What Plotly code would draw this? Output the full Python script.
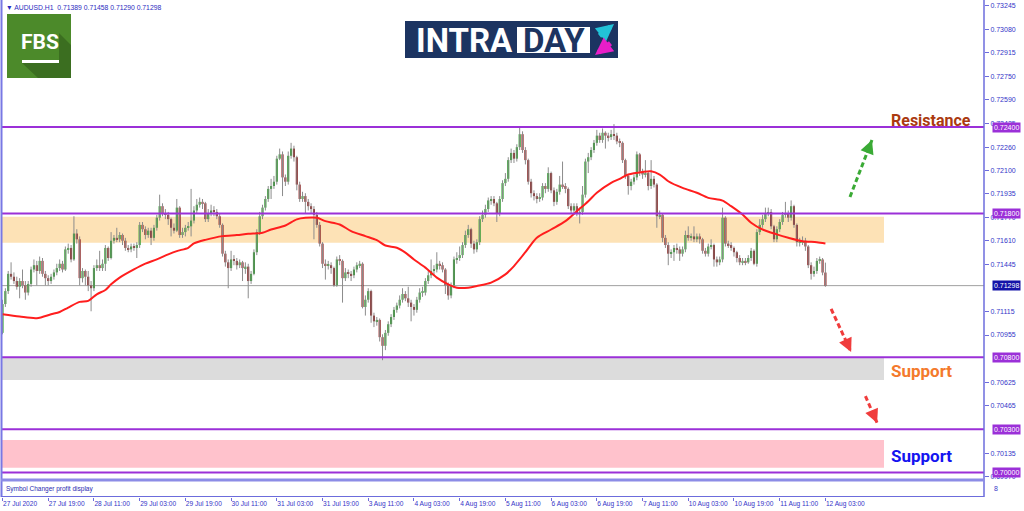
import plotly.graph_objects as go

W, H = 1024, 511

# ---------------- DATA (prices in 1e-5 units) ----------------
first_open = 70970
closes = [
    71170, 71260, 71380, 71360, 71330, 71290, 71330, 71300, 71250, 71310,
    71410, 71440, 71400, 71470, 71380, 71350, 71330, 71360, 71390, 71420,
    71450, 71410, 71550, 71560, 71480, 71660, 71620, 71350, 71400, 71360,
    71300, 71280, 71420, 71440, 71420, 71450, 71560, 71490, 71610, 71630,
    71620, 71650, 71610, 71560, 71550, 71570, 71560, 71580, 71720, 71690,
    71650, 71680, 71630, 71700, 71770, 71850, 71800, 71790, 71760, 71700,
    71680, 71840, 71650, 71670, 71700, 71710, 71750, 71820, 71860, 71880,
    71870, 71760, 71800, 71820, 71810, 71780, 71720, 71520, 71460, 71420,
    71480, 71470, 71440, 71460, 71420, 71430, 71330, 71380, 71530, 71670,
    71780, 71840, 71900, 71970, 71990, 72020, 72180, 72210, 72050, 72020,
    72200, 72250, 72190, 72000, 71900, 71920, 71880, 71850, 71830, 71790,
    71720, 71590, 71450, 71440, 71440, 71420, 71300, 71480, 71470, 71350,
    71390, 71380, 71370, 71410, 71440, 71450, 71150, 71200, 71260, 71090,
    71050, 71060, 70940, 70880, 70970, 71030, 71080, 71130, 71160, 71200,
    71240, 71210, 71180, 71150, 71130, 71200, 71250, 71250, 71330, 71370,
    71400, 71410, 71450, 71440, 71410, 71300, 71230, 71300, 71480, 71490,
    71510, 71580, 71650, 71690, 71590, 71550, 71600, 71760, 71790, 71830,
    71890, 71900, 71870, 71800, 71900, 72010, 72040, 72170, 72220, 72180,
    72260, 72350, 72240, 72170, 72020, 71940, 71920, 71900, 71910, 71990,
    71970, 72080, 71960, 71880, 71950, 72000, 71990, 71970, 71850, 71820,
    71850, 71800, 71810, 71930, 72160, 72190, 72240, 72290, 72340, 72310,
    72360, 72340, 72330, 72350, 72340, 72300, 72290, 72170, 72060, 71990,
    72020, 72050, 72210, 72090, 72070, 72080, 71990, 72040, 72000, 71780,
    71790, 71630, 71580, 71520, 71530, 71560, 71550, 71520, 71550, 71650,
    71630, 71640, 71620, 71640, 71620, 71540, 71520, 71570, 71580, 71480,
    71460, 71480, 71770, 71590, 71580, 71560, 71530, 71490, 71460, 71470,
    71460, 71490, 71540, 71450, 71670, 71720, 71760, 71800, 71810, 71710,
    71620, 71690, 71740, 71790, 71800, 71770, 71850, 71720, 71600, 71600,
    71610, 71570, 71440, 71380, 71400, 71470, 71480, 71389, 71298,
]
highs = [
    71200, 71280, 71400, 71460, 71390, 71360, 71350, 71410, 71330, 71330,
    71430, 71480, 71470, 71500, 71490, 71400, 71370, 71380, 71410, 71450,
    71480, 71470, 71570, 71590, 71580, 71780, 71690, 71640, 71420, 71410,
    71400, 71330, 71440, 71480, 71540, 71480, 71580, 71570, 71670, 71650,
    71700, 71670, 71660, 71630, 71580, 71590, 71590, 71600, 71740, 71740,
    71710, 71700, 71700, 71720, 71790, 71930, 71870, 71830, 71810, 71770,
    71730, 71900, 71850, 71700, 71720, 71740, 71970, 71850, 71900, 71910,
    71900, 71880, 71830, 71860, 71850, 71830, 71800, 71730, 71540, 71480,
    71540, 71510, 71490, 71480, 71470, 71460, 71450, 71400, 71550, 71690,
    71810, 71860, 71920, 71990, 72040, 72060, 72200, 72250, 72230, 72070,
    72230, 72290, 72270, 72200, 72020, 71950, 71940, 71900, 71870, 71850,
    71810, 71740, 71600, 71480, 71470, 71460, 71430, 71500, 71510, 71480,
    71420, 71410, 71400, 71430, 71460, 71470, 71460, 71230, 71280, 71270,
    71110, 71080, 71070, 70960, 70990, 71050, 71100, 71150, 71180, 71230,
    71280, 71260, 71290, 71200, 71170, 71220, 71280, 71290, 71350, 71400,
    71480, 71440, 71530, 71470, 71460, 71420, 71320, 71320, 71500, 71530,
    71570, 71600, 71680, 71720, 71700, 71610, 71620, 71780, 71820, 71860,
    71910, 71920, 71920, 71880, 71920, 72030, 72080, 72190, 72250, 72240,
    72280, 72400, 72370, 72260, 72180, 72040, 71960, 71940, 71940, 72010,
    72010, 72120, 72090, 71980, 71970, 72060, 72160, 72010, 71980, 71870,
    71870, 71870, 71840, 71990, 72180, 72220, 72260, 72310, 72380, 72360,
    72390, 72370, 72360, 72380, 72420, 72360, 72320, 72300, 72180, 72070,
    72040, 72070, 72230, 72220, 72110, 72170, 72090, 72170, 72060, 72010,
    71820, 71800, 71650, 71600, 71550, 71580, 71590, 71570, 71570, 71680,
    71710, 71660, 71710, 71660, 71660, 71630, 71560, 71590, 71620, 71590,
    71500, 71500, 71840, 71780, 71610, 71600, 71570, 71540, 71510, 71490,
    71490, 71510, 71560, 71550, 71690, 71760, 71790, 71840, 71840, 71830,
    71720, 71710, 71760, 71810, 71880, 71820, 71890, 71860, 71730, 71630,
    71640, 71630, 71580, 71460, 71430, 71490, 71500, 71490, 71458,
]
lows = [
    70960, 71150, 71240, 71340, 71310, 71270, 71210, 71280, 71200, 71230,
    71290, 71390, 71300, 71380, 71360, 71300, 71300, 71310, 71340, 71370,
    71400, 71390, 71400, 71520, 71460, 71470, 71590, 71300, 71320, 71300,
    71260, 71120, 71260, 71400, 71400, 71400, 71400, 71470, 71480, 71590,
    71600, 71600, 71580, 71540, 71530, 71530, 71540, 71490, 71560, 71670,
    71620, 71630, 71580, 71610, 71680, 71750, 71780, 71760, 71720, 71640,
    71660, 71670, 71630, 71630, 71640, 71680, 71640, 71730, 71800, 71840,
    71830, 71740, 71740, 71780, 71780, 71760, 71700, 71500, 71430, 71280,
    71400, 71440, 71410, 71420, 71330, 71380, 71210, 71310, 71370, 71510,
    71650, 71760, 71820, 71880, 71900, 71970, 72000, 72170, 71920, 71990,
    72000, 72180, 72160, 71960, 71880, 71880, 71800, 71820, 71800, 71620,
    71700, 71570, 71420, 71340, 71410, 71380, 71290, 71290, 71440, 71180,
    71330, 71350, 71330, 71350, 71390, 71420, 71140, 71090, 71180, 71040,
    71010, 71020, 70910, 70780, 70850, 70950, 71010, 71060, 71110, 71140,
    71180, 71190, 71150, 71050, 71090, 71110, 71180, 71220, 71230, 71310,
    71350, 71370, 71390, 71410, 71390, 71240, 71200, 71210, 71280, 71450,
    71470, 71490, 71560, 71630, 71560, 71520, 71530, 71580, 71740, 71770,
    71810, 71860, 71850, 71740, 71780, 71880, 71990, 72020, 72150, 72150,
    72160, 72240, 72220, 72140, 72000, 71910, 71890, 71870, 71880, 71890,
    71940, 71950, 71940, 71850, 71860, 71930, 71970, 71940, 71830, 71800,
    71800, 71780, 71730, 71790, 71910, 72080, 72170, 72220, 72270, 72290,
    72290, 72250, 72300, 72310, 72310, 72280, 72260, 72150, 72040, 71930,
    71960, 72000, 72030, 72060, 72040, 72050, 71960, 71970, 71980, 71700,
    71760, 71600, 71560, 71440, 71490, 71470, 71520, 71470, 71500, 71530,
    71610, 71610, 71600, 71600, 71590, 71520, 71500, 71500, 71550, 71430,
    71430, 71440, 71460, 71570, 71560, 71540, 71500, 71460, 71440, 71440,
    71440, 71450, 71470, 71440, 71430, 71650, 71700, 71740, 71780, 71690,
    71600, 71600, 71670, 71720, 71770, 71740, 71750, 71700, 71570, 71570,
    71580, 71540, 71420, 71340, 71360, 71380, 71450, 71370, 71290,
]

ma_bars = [0, 6, 12, 17, 20, 23, 27, 30, 33, 36, 38, 41, 46, 50, 54, 58, 61, 65, 67, 71,
           77, 82, 86, 91, 94, 99, 103, 106, 110, 113, 118, 122, 127, 131, 134, 138, 141, 144, 148, 152,
           156, 159, 163, 166, 171, 176, 179, 183, 187, 192, 197, 201, 205, 208, 213, 216, 219, 224, 227, 230,
           233, 238, 243, 247, 252, 255, 259, 262, 266, 271, 275, 280, 285, 288]
ma_vals = [71099, 71083, 71072, 71099, 71115, 71146, 71185, 71192, 71238, 71268,
           71307, 71354, 71411, 71451, 71480, 71515, 71538, 71561, 71591, 71616,
           71642, 71649, 71658, 71665, 71688, 71716, 71758, 71769, 71769, 71746,
           71723, 71677, 71642, 71614, 71577, 71561, 71527, 71480, 71423, 71354,
           71307, 71284, 71284, 71295, 71319, 71376, 71434, 71530, 71631, 71688,
           71746, 71815, 71884, 71943, 72012, 72040, 72070, 72088, 72092, 72070,
           72023, 71977, 71943, 71908, 71889, 71850, 71792, 71735, 71688, 71654,
           71631, 71607, 71600, 71591]

x_tick_bars = [0, 16, 32, 48, 64, 80, 96, 112, 128, 144, 160, 176, 192, 208, 224, 240, 256, 272, 288]
x_tick_text = ["27 Jul 2020", "27 Jul 19:00", "28 Jul 11:00", "29 Jul 03:00", "29 Jul 19:00",
               "30 Jul 11:00", "31 Jul 03:00", "31 Jul 19:00", "3 Aug 11:00", "4 Aug 03:00",
               "4 Aug 19:00", "5 Aug 11:00", "6 Aug 03:00", "6 Aug 19:00", "7 Aug 11:00",
               "10 Aug 03:00", "10 Aug 19:00", "11 Aug 11:00", "12 Aug 03:00"]
# axis ticks that are not fully hidden behind the boxed level labels
y_tick_vals = [0.73245, 0.73080, 0.72915, 0.72750, 0.72590, 0.72425, 0.72260, 0.72100,
               0.71935, 0.71770, 0.71610, 0.71445, 0.71115, 0.70955,
               0.70625, 0.70465, 0.70135, 0.69970]
level_lines = [0.72400, 0.71800, 0.70800, 0.70300, 0.70000]
last_price = 0.71298
zone_resistance = (0.71596, 0.71777)
zone_support1 = (0.70643, 0.70800)
zone_support2 = (0.70033, 0.70226)
header = "▼ AUDUSD.H1  0.71389 0.71458 0.71290 0.71298"

# arrows: (bar_from, price_from, bar_to, price_to, colour)
arrows = [
    (296.6, 0.71914, 304.3, 0.72310, "#3aaa35"),
    (290.0, 0.71136, 297.0, 0.70837, "#f03c3c"),
    (302.0, 0.70531, 306.1, 0.70344, "#f03c3c"),
]

# ---------------- helpers ----------------
def px(x):
    return x / W

def py(y):
    return 1 - y / H

P = 1e-5
opens = [first_open] + closes[:-1]
c = [v * P for v in closes]
o = [v * P for v in opens]
hi = [v * P for v in highs]
lo = [v * P for v in lows]
idx = list(range(len(closes)))

fig = go.Figure()

# wicks
wx, wy = [], []
for i in idx:
    wx += [i, i, None]
    wy += [lo[i], hi[i], None]
fig.add_trace(go.Scatter(x=wx, y=wy, mode="lines", line=dict(color="#8c8c8c", width=1),
                         hoverinfo="skip", showlegend=False))

# bodies
base = [min(o[i], c[i]) for i in idx]
hgt = [max(abs(c[i] - o[i]), 0.00007) for i in idx]
cols = ["#1e9e1e" if c[i] >= o[i] else "#8b1010" for i in idx]
fig.add_trace(go.Bar(x=idx, y=hgt, base=base, width=0.72, marker=dict(color=cols, line=dict(width=0)),
                     showlegend=False, hoverinfo="skip"))

# moving average
fig.add_trace(go.Scatter(x=ma_bars, y=[v * P for v in ma_vals], mode="lines",
                         line=dict(color="#ff1e1e", width=2, shape="spline", smoothing=0.8),
                         showlegend=False, hoverinfo="skip"))

shapes = []
ann = []

# zones
for (lo_z, hi_z), col in [(zone_resistance, "#fde2b6"), (zone_support1, "#dcdcdc"), (zone_support2, "#ffc2cc")]:
    shapes.append(dict(type="rect", xref="paper", yref="y", x0=px(2), x1=px(884), y0=lo_z, y1=hi_z,
                       fillcolor=col, line=dict(width=0), layer="below"))

# last price line
shapes.append(dict(type="line", xref="paper", yref="y", x0=px(2), x1=px(984), y0=last_price, y1=last_price,
                   line=dict(color="#a0a0a0", width=1), layer="below"))
# level lines
for lv in level_lines:
    shapes.append(dict(type="line", xref="paper", yref="y", x0=px(2), x1=px(984), y0=lv, y1=lv,
                       line=dict(color="#9b30d8", width=2)))

# frame
frame_col = "#6c6cdc"
shapes += [
    dict(type="line", xref="paper", yref="paper", x0=px(1.5), x1=px(1.5), y0=py(0), y1=py(497),
         line=dict(color="#7878e4", width=2)),
    dict(type="line", xref="paper", yref="paper", x0=px(984), x1=px(984), y0=py(0), y1=py(497),
         line=dict(color=frame_col, width=1.5)),
    dict(type="line", xref="paper", yref="paper", x0=px(1), x1=px(984), y0=py(480), y1=py(480),
         line=dict(color="#8c8ce6", width=3)),
    dict(type="line", xref="paper", yref="paper", x0=px(1), x1=px(984), y0=py(496.5), y1=py(496.5),
         line=dict(color=frame_col, width=1.2)),
]

# arrows (dashed shaft + arrow head)
for b0, p0, b1, p1, col in arrows:
    shapes.append(dict(type="line", xref="x", yref="y", x0=b0, y0=p0, x1=b1, y1=p1,
                       line=dict(color=col, width=3, dash="5px,3px")))
    ann.append(dict(x=b1, y=p1, xref="x", yref="y", ax=b1 - (b1 - b0) * 0.25, ay=p1 - (p1 - p0) * 0.25,
                    axref="x", ayref="y", showarrow=True, arrowhead=2, arrowsize=1.1, arrowwidth=2.5,
                    arrowcolor=col, text=""))

# price boxes on the axis
for lv in level_lines:
    ann.append(dict(x=px(992), y=lv, xref="paper", yref="y", xanchor="left", yanchor="middle",
                    text=f"{lv:.5f}", showarrow=False, bgcolor="#9b30d8", borderpad=1,
                    font=dict(family="Liberation Sans", size=7, color="white")))
ann.append(dict(x=px(992), y=last_price, xref="paper", yref="y", xanchor="left", yanchor="middle",
                text=f"{last_price:.5f}", showarrow=False, bgcolor="#1414a8", borderpad=1,
                font=dict(family="Liberation Sans", size=7, color="white")))

# texts
ann += [
    dict(x=px(4), y=py(7), xref="paper", yref="paper", xanchor="left", yanchor="middle", showarrow=False,
         text=header, font=dict(family="Liberation Sans", size=6.8, color="#2a2ac0")),
    dict(x=px(4), y=py(488.5), xref="paper", yref="paper", xanchor="left", yanchor="middle", showarrow=False,
         text="Symbol Changer profit display", font=dict(family="Liberation Sans", size=6.5, color="#2a2ab0")),
    dict(x=px(992), y=py(488), xref="paper", yref="paper", xanchor="left", yanchor="middle", showarrow=False,
         text="8", font=dict(family="Liberation Sans", size=7, color="#3a3ac8")),
    dict(x=px(931), y=py(120), xref="paper", yref="paper", xanchor="center", yanchor="middle", showarrow=False,
         text="<b>Resistance</b>", font=dict(family="Roboto", size=16, color="#ab3a10")),
    dict(x=px(921), y=py(371), xref="paper", yref="paper", xanchor="center", yanchor="middle", showarrow=False,
         text="<b>Support</b>", font=dict(family="Roboto", size=17, color="#f47a2c")),
    dict(x=px(921), y=py(456), xref="paper", yref="paper", xanchor="center", yanchor="middle", showarrow=False,
         text="<b>Support</b>", font=dict(family="Roboto", size=17, color="#1414f0")),
]

# FBS logo
shapes += [
    dict(type="rect", xref="paper", yref="paper", x0=px(7), x1=px(71), y0=py(78), y1=py(14),
         fillcolor="#4c8a2a", line=dict(width=0)),
    dict(type="path", xref="paper", yref="paper",
         path=f"M {px(59)},{py(33)} L {px(71)},{py(45)} L {px(71)},{py(78)} L {px(38)},{py(78)} "
              f"L {px(22)},{py(63)} L {px(59)},{py(63)} Z",
         fillcolor="#3b6e20", line=dict(width=0)),
    dict(type="rect", xref="paper", yref="paper", x0=px(22), x1=px(59), y0=py(63), y1=py(60),
         fillcolor="white", line=dict(width=0)),
]
ann.append(dict(x=px(40), y=py(42), xref="paper", yref="paper", xanchor="center", yanchor="middle",
                showarrow=False, text="<b>FBS</b>", font=dict(family="Roboto", size=21, color="white")))

# INTRADAY logo
shapes += [
    dict(type="rect", xref="paper", yref="paper", x0=px(405), x1=px(618), y0=py(58), y1=py(21),
         fillcolor="#1c3461", line=dict(width=0)),
    dict(type="rect", xref="paper", yref="paper", x0=px(517), x1=px(590), y0=py(53), y1=py(27),
         fillcolor="white", line=dict(width=0)),
]
ann += [
    dict(x=px(464), y=py(41), xref="paper", yref="paper", xanchor="center", yanchor="middle", showarrow=False,
         text="<b>INTRA</b>", font=dict(family="Roboto", size=33, color="white")),
    dict(x=px(553.5), y=py(41), xref="paper", yref="paper", xanchor="center", yanchor="middle", showarrow=False,
         text="<b>DAY</b>", font=dict(family="Roboto", size=33, color="#1c3461")),
    dict(x=px(614), y=py(24), xref="paper", yref="paper", ax=-16, ay=13, showarrow=True, arrowhead=2,
         arrowsize=0.7, arrowwidth=5, arrowcolor="#22c3d8", text=""),
    dict(x=px(595), y=py(55), xref="paper", yref="paper", ax=17, ay=-13, showarrow=True, arrowhead=2,
         arrowsize=0.7, arrowwidth=5, arrowcolor="#e81ec8", text=""),
]

fig.update_layout(
    width=W, height=H, margin=dict(l=0, r=0, t=0, b=0, autoexpand=False),
    paper_bgcolor="white", plot_bgcolor="white",
    barmode="overlay", showlegend=False,
    shapes=shapes, annotations=ann,
    xaxis=dict(domain=[px(1), px(984)], range=[-0.525, 343.5], anchor="free", position=py(497),
               showgrid=False, zeroline=False, showline=False, automargin=False, tickangle=0,
               tickmode="array", tickvals=x_tick_bars, ticktext=x_tick_text,
               ticks="outside", ticklen=3, tickcolor=frame_col, ticklabelposition="outside right",
               tickfont=dict(family="Liberation Sans", size=6.6, color="#3434c8")),
    yaxis=dict(domain=[py(478), 1], range=[0.699618, 0.732822], side="right", anchor="free",
               position=px(984), showgrid=False, zeroline=False, showline=False, automargin=False,
               tickmode="array", tickvals=y_tick_vals, tickformat=".5f",
               ticks="outside", ticklen=4, tickcolor=frame_col,
               tickfont=dict(family="Liberation Sans", size=7, color="#3434c8")),
)

fig.write_html("out.html", config={"displayModeBar": False},
               post_script="document.body.style.margin='0';document.body.style.overflow='hidden';")
